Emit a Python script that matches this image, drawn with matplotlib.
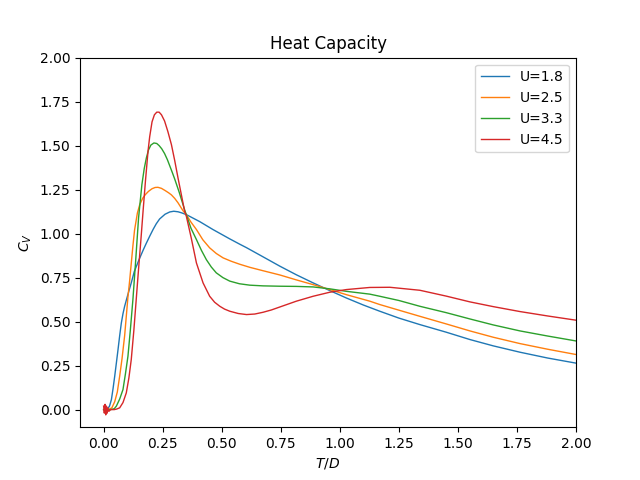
import matplotlib
matplotlib.use("Agg")
import matplotlib.pyplot as plt

labels = ["U=1.8", "U=2.5", "U=3.3", "U=4.5"]

t_u18 = [0.0, 0.015, 0.025, 0.033, 0.04, 0.047, 0.054, 0.061, 0.068, 0.075, 0.082, 0.089, 0.103,
         0.117, 0.13, 0.15, 0.167, 0.18, 0.195, 0.21, 0.223, 0.237, 0.26, 0.28, 0.297, 0.315, 0.33,
         0.35, 0.407, 0.463, 0.534, 0.576, 0.605, 0.675, 0.746, 0.816, 0.887, 0.958, 1.028, 1.1,
         1.169, 1.25, 1.339, 1.45, 1.551, 1.65, 1.763, 1.88, 2.0]
c_u18 = [0.0, 0.0, 0.02, 0.057, 0.12, 0.19, 0.265, 0.341, 0.42, 0.492, 0.545, 0.587, 0.655,
         0.72, 0.785, 0.852, 0.905, 0.943, 0.985, 1.025, 1.056, 1.083, 1.11, 1.123, 1.127, 1.124, 1.118,
         1.108, 1.068, 1.023, 0.97, 0.94, 0.92, 0.868, 0.815, 0.766, 0.72, 0.676, 0.634, 0.594,
         0.559, 0.52, 0.483, 0.44, 0.398, 0.362, 0.326, 0.293, 0.264]

t_u25 = [0.0, 0.02, 0.035, 0.047, 0.058, 0.068, 0.078, 0.089, 0.096, 0.103, 0.110, 0.117, 0.124,
         0.131, 0.143, 0.153, 0.165, 0.177, 0.19, 0.205, 0.218, 0.23, 0.245, 0.26, 0.275, 0.287,
         0.301, 0.315, 0.336, 0.35, 0.37, 0.393, 0.42, 0.449, 0.477, 0.506, 0.54, 0.576, 0.62, 0.675,
         0.746, 0.816, 0.887, 0.958, 1.028, 1.127, 1.169, 1.25, 1.339, 1.45, 1.551, 1.65, 1.763,
         1.88, 2.0]
c_u25 = [0.0, 0.0, 0.01, 0.045, 0.1, 0.19, 0.29, 0.42, 0.53, 0.64, 0.73, 0.83, 0.93,
         1.02, 1.117, 1.165, 1.2, 1.222, 1.24, 1.255, 1.262, 1.263, 1.257, 1.245, 1.232, 1.22,
         1.2, 1.175, 1.13, 1.108, 1.065, 1.023, 0.965, 0.919, 0.887, 0.862, 0.843, 0.826, 0.808, 0.789,
         0.765, 0.737, 0.71, 0.682, 0.653, 0.616, 0.597, 0.565, 0.530, 0.487, 0.447, 0.411, 0.375,
         0.343, 0.313]

t_u33 = [0.0, 0.03, 0.045, 0.054, 0.068, 0.082, 0.092, 0.103, 0.113, 0.124, 0.136, 0.148, 0.162,
         0.172, 0.181, 0.19, 0.2, 0.213, 0.225, 0.235, 0.246, 0.258, 0.27, 0.28, 0.29, 0.301, 0.32,
         0.343, 0.35, 0.37, 0.393, 0.414, 0.435, 0.456, 0.477, 0.505, 0.534, 0.575, 0.619, 0.675,
         0.746, 0.816, 0.887, 0.958, 1.028, 1.127, 1.169, 1.25, 1.339, 1.45, 1.551, 1.65, 1.763,
         1.88, 2.0]
c_u33 = [0.0, 0.0, 0.005, 0.02, 0.06, 0.114, 0.2, 0.303, 0.45, 0.625, 0.852, 1.09, 1.278,
         1.37, 1.43, 1.475, 1.503, 1.515, 1.512, 1.5, 1.482, 1.455, 1.42, 1.385, 1.35, 1.31, 1.235,
         1.135, 1.108, 1.03, 0.966, 0.905, 0.852, 0.81, 0.777, 0.75, 0.73, 0.715, 0.707, 0.703,
         0.701, 0.70, 0.697, 0.686, 0.672, 0.656, 0.644, 0.62, 0.587, 0.551, 0.515, 0.481, 0.447,
         0.418, 0.39]

t_u45 = [0.0, 0.003, 0.006, 0.009, 0.012, 0.015, 0.018, 0.022, 0.03, 0.045, 0.055, 0.068, 0.082,
         0.096, 0.107, 0.117, 0.128, 0.138, 0.148, 0.157, 0.167, 0.177, 0.188, 0.195, 0.205, 0.215,
         0.225, 0.235, 0.245, 0.258, 0.272, 0.287, 0.301, 0.315, 0.33, 0.343, 0.35, 0.371, 0.393,
         0.421, 0.449, 0.47, 0.492, 0.512, 0.534, 0.57, 0.605, 0.64, 0.675, 0.71, 0.746, 0.816, 0.887,
         0.958, 1.028, 1.127, 1.212, 1.339, 1.45, 1.551, 1.65, 1.763, 1.88, 2.0]
c_u45 = [0.02, -0.02, 0.03, -0.03, 0.02, -0.02, 0.01, -0.01, 0.0, 0.0, 0.003, 0.01, 0.04,
         0.095, 0.18, 0.284, 0.45, 0.625, 0.80, 0.95, 1.127, 1.297, 1.468, 1.55, 1.635, 1.675,
         1.69, 1.69, 1.675, 1.64, 1.58, 1.506, 1.415, 1.316, 1.215, 1.127, 1.10, 0.975, 0.833,
         0.72, 0.644, 0.61, 0.587, 0.571, 0.559, 0.546, 0.54, 0.543, 0.553, 0.566, 0.583, 0.616, 0.644,
         0.667, 0.682, 0.694, 0.695, 0.678, 0.645, 0.612, 0.585, 0.557, 0.532, 0.508]

fig, ax = plt.subplots(figsize=(6.4, 4.8), dpi=100)
for t, c, lab in [(t_u18, c_u18, labels[0]), (t_u25, c_u25, labels[1]),
                  (t_u33, c_u33, labels[2]), (t_u45, c_u45, labels[3])]:
    ax.plot(t, c, lw=1.0, label=lab)

ax.set_xlim(-0.1, 2.0)
ax.set_ylim(-0.1, 2.0)
ax.set_title("Heat Capacity")
ax.set_xlabel("$T/D$")
ax.set_ylabel("$C_V$")
ax.legend(loc="upper right")
fig.savefig("out.png")
